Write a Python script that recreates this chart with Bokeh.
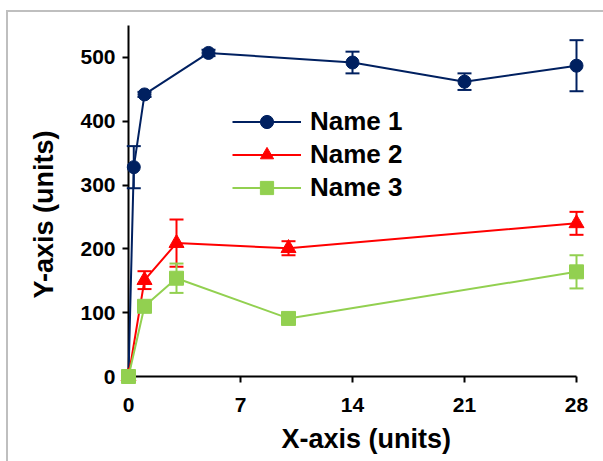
from bokeh.plotting import figure
from bokeh.models import Range1d, FixedTicker, Title
from bokeh.embed import file_html
from bokeh.resources import INLINE

# ---- data ----
x_ticks = [0, 7, 14, 21, 28]
y_ticks = [0, 100, 200, 300, 400, 500]

series_names = ["Name 1", "Name 2", "Name 3"]

name1_x = [0, 0.33, 1, 5, 14, 21, 28]
name1_y = [0, 328, 442, 507, 492, 462, 487]
name1_err = [0, 33, 4, 5, 17, 13, 40]

name2_x = [0, 1, 3, 10, 28]
name2_y = [0, 151, 209, 201, 240]
name2_err = [0, 14, 37, 11, 18]

name3_x = [0, 1, 3, 10, 28]
name3_y = [0, 110, 154, 91, 164]
name3_err = [0, 0, 23, 0, 26]

x_title = "X-axis (units)"
y_title = "Y-axis (units)"

# ---- styles ----
colors = ["#002060", "#FF0000", "#92D050"]
markers = ["circle", "triangle", "square"]
marker_sizes = [13, 15, 14]
FONT = "Liberation Sans"

p = figure(width=603, height=461, output_backend="svg", toolbar_location=None,
           x_range=Range1d(0, 28), y_range=Range1d(0, 550),
           min_border_left=128, min_border_right=27, min_border_top=25,
           min_border_bottom=84)
p.outline_line_color = None
p.grid.visible = False
p.background_fill_color = "white"
p.border_fill_alpha = 0
p.styles = {
    "background-color": "white",
    "background-image": "linear-gradient(#BFBFBF, #BFBFBF), linear-gradient(#BFBFBF, #BFBFBF)",
    "background-repeat": "no-repeat, no-repeat",
    "background-position": "6px 10px, 6px 10px",
    "background-size": "2px 100%, 100% 2px",
}

for ax in (p.xaxis, p.yaxis):
    ax.axis_line_color = "black"
    ax.axis_line_width = 2
    ax.major_tick_line_color = "black"
    ax.major_tick_line_width = 2
    ax.major_tick_in = 0
    ax.major_tick_out = 6
    ax.minor_tick_line_color = None
    ax.major_label_text_font = FONT
    ax.major_label_text_font_style = "bold"
    ax.major_label_text_font_size = "21px"
    ax.major_label_text_color = "black"

p.xaxis.ticker = FixedTicker(ticks=x_ticks)
p.yaxis.ticker = FixedTicker(ticks=y_ticks)
p.xaxis.major_label_standoff = 15
p.yaxis.major_label_standoff = 7

all_x = [name1_x, name2_x, name3_x]
all_y = [name1_y, name2_y, name3_y]
all_err = [name1_err, name2_err, name3_err]

for name, xs, ys, errs, color, mk, sz in zip(series_names, all_x, all_y, all_err,
                                              colors, markers, marker_sizes):
    keep = [i for i, e in enumerate(errs) if e > 0]
    ex = [xs[i] for i in keep]
    up = [ys[i] + errs[i] for i in keep]
    lo = [ys[i] - errs[i] for i in keep]
    p.segment(x0=ex, y0=lo, x1=ex, y1=up, line_color=color, line_width=2,
              level="overlay")
    p.scatter(ex + ex, lo + up, marker="dash", size=14, line_color=color,
              line_width=2, level="overlay")
    p.line(xs, ys, line_color=color, line_width=2, legend_label=name, level="overlay")
    p.scatter(xs, ys, marker=mk, size=sz, fill_color=color, line_color=color,
              legend_label=name, level="overlay")

lg = p.legend[0]
lg.location = (104, 172)
lg.padding = 0
lg.margin = 0
lg.spacing = 0
lg.border_line_color = None
lg.background_fill_alpha = 0
lg.glyph_width = 69
lg.glyph_height = 33
lg.label_height = 33
lg.label_standoff = 9
lg.label_text_font = FONT
lg.label_text_font_style = "bold"
lg.label_text_font_size = "26px"
lg.label_text_color = "black"

# axis titles as side-panel titles
p.add_layout(Title(text=x_title, align="left", offset=153, standoff=15,
                   text_font=FONT, text_font_style="bold", text_font_size="27px",
                   text_color="black"), "below")
p.add_layout(Title(text=y_title, align="left", offset=78, standoff=38,
                   text_font=FONT, text_font_style="bold", text_font_size="27px",
                   text_color="black"), "left")

open("out.html", "w").write(file_html(p, INLINE))
